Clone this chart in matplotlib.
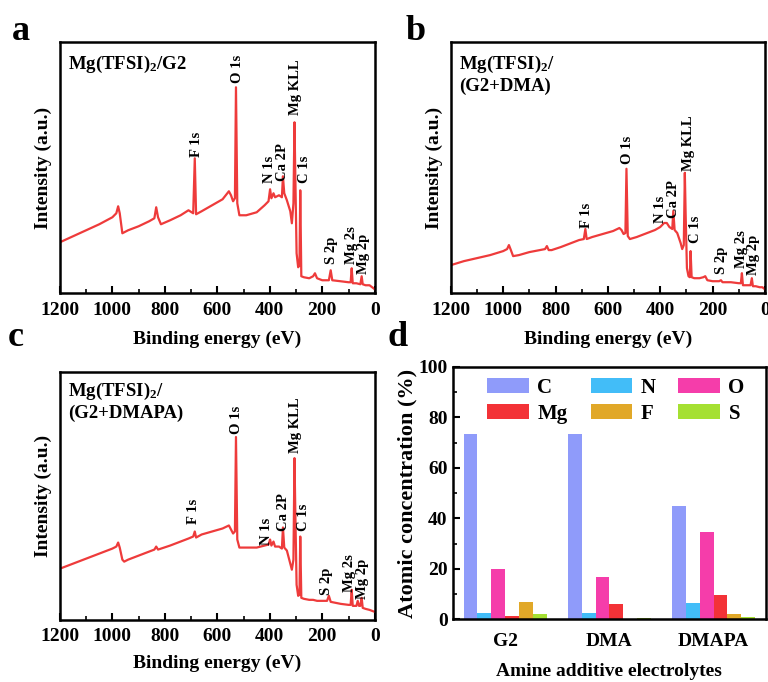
import matplotlib.pyplot as plt
import numpy as np
from matplotlib.ticker import MultipleLocator

plt.rcParams['font.family'] = ['Liberation Serif', 'DejaVu Serif']
plt.rcParams['font.weight'] = 'bold'
plt.rcParams['axes.labelweight'] = 'bold'
plt.rcParams['mathtext.fontset'] = 'custom'
plt.rcParams['mathtext.rm'] = 'Liberation Serif:bold'
plt.rcParams['mathtext.it'] = 'Liberation Serif:bold'
plt.rcParams['mathtext.bf'] = 'Liberation Serif:bold'

# XPS survey spectra (intensity in arbitrary units)
a_E = [1200, 1150, 1100, 1050, 1000, 985, 978, 972, 962, 940, 900, 860, 840, 833, 826, 815,
       780, 740, 710, 692, 686, 681, 660, 620, 580, 556, 548, 540, 533, 529, 524, 516, 490,
       450, 420, 405, 399, 394, 386, 380, 365, 354, 350, 345, 335, 322, 316, 310, 306, 303,
       298, 292, 287, 284, 280, 270, 250, 235, 228, 220, 200, 175, 168, 162, 130, 100, 92,
       88, 84, 70, 55, 50, 46, 35, 20, 10, 0]
a_I = [51, 57, 63, 69, 76, 80, 87, 80, 60, 63, 67, 72, 75, 86, 76, 69,
       73, 78, 83, 80, 135, 79, 82, 88, 94, 102, 98, 92, 95, 206, 90, 78, 78,
       81, 88, 92, 104, 95, 100, 96, 98, 96, 117, 100, 93, 82, 70, 90, 171, 120,
       40, 26, 28, 103, 17, 16, 15, 17, 20, 15, 13, 13, 23, 13, 12, 11, 11,
       25, 10, 10, 9, 17, 9, 8, 8, 6, 4]

b_E = [1200, 1150, 1100, 1050, 1000, 985, 978, 972, 962, 940, 900, 860, 840, 833, 826, 815,
       780, 740, 710, 692, 686, 681, 660, 620, 580, 556, 548, 540, 533, 529, 524, 516, 490,
       450, 420, 400, 385, 375, 365, 354, 350, 345, 335, 322, 316, 310, 306, 303, 298, 292,
       287, 284, 280, 270, 250, 235, 228, 220, 200, 175, 168, 162, 130, 100, 92, 88, 84,
       70, 55, 50, 46, 35, 20, 10, 0]
b_I = [28, 32, 35, 38, 42, 44, 48, 44, 37, 38, 41, 43, 44, 47, 43, 43,
       46, 50, 53, 54, 64, 54, 56, 59, 62, 65, 63, 59, 60, 124, 57, 54, 56,
       60, 63, 66, 70, 70, 66, 64, 82, 63, 60, 50, 44, 48, 120, 80, 25, 17,
       16, 42, 16, 15, 15, 16, 17, 13, 12, 12, 13, 11, 11, 10, 10, 20, 8,
       8, 8, 15, 7, 7, 6, 6, 4]

c_E = [1200, 1150, 1100, 1050, 1000, 985, 978, 972, 962, 955, 940, 900, 860, 840, 833, 826,
       780, 740, 710, 692, 686, 681, 660, 620, 580, 556, 548, 540, 533, 529, 524, 516, 490,
       450, 420, 405, 399, 394, 386, 380, 365, 354, 350, 345, 335, 322, 316, 310, 306, 303,
       298, 292, 287, 284, 280, 270, 250, 235, 220, 200, 182, 175, 168, 130, 100, 92, 88,
       84, 70, 65, 60, 55, 50, 46, 35, 20, 10, 0]
c_I = [51, 56, 61, 66, 71, 73, 77, 72, 60, 58, 60, 64, 68, 70, 73, 70,
       74, 78, 81, 83, 88, 82, 85, 88, 91, 94, 90, 86, 88, 182, 80, 72, 72,
       72, 74, 75, 80, 74, 78, 73, 73, 71, 92, 72, 69, 56, 50, 60, 161, 110,
       35, 24, 25, 83, 22, 21, 20, 20, 19, 19, 19, 24, 18, 16, 15, 15, 30,
       14, 14, 19, 14, 14, 22, 12, 11, 10, 9, 8]

peak_names = ['F 1s', 'O 1s', 'N 1s', 'Ca 2P', 'Mg KLL', 'C 1s', 'S 2p', 'Mg 2s', 'Mg 2p']

# atomic concentration (%)
groups = ['G2', 'DMA', 'DMAPA']
elements = ['C', 'N', 'O', 'Mg', 'F', 'S']
conc_C = [73.5, 73.3, 45.0]
conc_N = [2.3, 2.5, 6.5]
conc_O = [20.0, 16.8, 34.5]
conc_Mg = [1.2, 6.2, 9.7]
conc_F = [6.8, 0.0, 2.2]
conc_S = [2.0, 0.3, 0.8]
el_colors = ['#8F9BFA', '#42BDF8', '#F53DAA', '#F33237', '#E1A828', '#A5E032']

red = '#EE3B3B'

fig = plt.figure(figsize=(7.68, 6.82), dpi=100)

# label positions (E, bottom of text) for each spectrum
lab_a = [(680, 136), (524, 210), (400, 110), (350, 112), (301, 178), (267, 110), (164, 29), (88, 29), (42, 19)]
lab_b = [(680, 65), (524, 129), (398, 70), (348, 75), (291, 122), (267, 50), (164, 19), (90, 25), (42, 18)]
lab_c = [(689, 95), (526, 185), (411, 75), (347, 88), (301, 166), (270, 88), (183, 25), (95, 28), (45, 21)]

spectra = [
    ([0.078, 0.570, 0.410, 0.368], a_E, a_I, 251, lab_a, 'Mg(TFSI)$_2$/G2', 0.955, -0.151),
    ([0.587, 0.570, 0.409, 0.368], b_E, b_I, 250, lab_b, 'Mg(TFSI)$_2$/\n(G2+DMA)', 0.955, -0.151),
    ([0.078, 0.091, 0.410, 0.364], c_E, c_I, 247, lab_c, 'Mg(TFSI)$_2$/\n(G2+DMAPA)', 0.965, -0.141),
]

for rect, E, I, top, labs, title, ty, xly in spectra:
    ax = fig.add_axes(rect)
    ax.plot(E, I, color=red, lw=1.6)
    ax.set_xlim(1200, 0)
    ax.set_ylim(0, top)
    ax.set_xticks([1200, 1000, 800, 600, 400, 200, 0])
    ax.xaxis.set_minor_locator(MultipleLocator(100))
    ax.set_yticks([])
    ax.tick_params(axis='x', which='major', direction='in', length=5, width=1.5, labelsize=14, pad=6)
    ax.tick_params(axis='x', which='minor', direction='in', length=3, width=1.2)
    for s in ax.spines.values():
        s.set_linewidth(1.8)
    ax.set_xlabel('Binding energy (eV)', fontsize=14)
    ax.xaxis.set_label_coords(0.5, xly)
    ax.set_ylabel('Intensity (a.u.)', fontsize=14)
    ax.yaxis.set_label_coords(-0.025, 0.5)
    ax.text(0.025, ty, title, transform=ax.transAxes, fontsize=13.5, va='top', ha='left',
            linespacing=1.25)
    for name, (px, py) in zip(peak_names, labs):
        ax.text(px, py, name, rotation=90, ha='center', va='bottom', fontsize=10.5)

# bar chart
axd = fig.add_axes([0.590, 0.092, 0.407, 0.370])
x = np.arange(1, 4)
w = 0.8 / 6
series = [conc_C, conc_N, conc_O, conc_Mg, conc_F, conc_S]
bars = []
for i, (vals, col, el) in enumerate(zip(series, el_colors, elements)):
    bars.append(axd.bar(x + (i - 2.5) * w, vals, width=w, color=col, label=el))
axd.set_xlim(0.5, 3.5)
axd.set_ylim(0, 100)
axd.set_yticks([0, 20, 40, 60, 80, 100])
axd.yaxis.set_minor_locator(MultipleLocator(10))
axd.set_xticks(x)
axd.set_xticklabels(groups)
axd.tick_params(axis='y', which='major', direction='in', length=5, width=1.5, labelsize=14, pad=4)
axd.tick_params(axis='y', which='minor', direction='in', length=3, width=1.2)
axd.tick_params(axis='x', length=0, labelsize=14, pad=10)
for s in axd.spines.values():
    s.set_linewidth(1.8)
axd.set_xlabel('Amine additive electrolytes', fontsize=14)
axd.xaxis.set_label_coords(0.5, -0.175)
axd.set_ylabel('Atomic concentration (%)', fontsize=16)
axd.yaxis.set_label_coords(-0.115, 0.5)
# legend filled row by row: C N O / Mg F S
order = [0, 3, 1, 4, 2, 5]
axd.legend([bars[k] for k in order], [elements[k] for k in order], ncol=3, loc='upper left',
           bbox_to_anchor=(0.083, 0.99), frameon=False,
           fontsize=15, handlelength=2.0, handleheight=0.75, handletextpad=0.4,
           columnspacing=1.1, labelspacing=0.3, borderaxespad=0)

# panel letters
for lx, ly, let in [(0.016, 0.941, 'a'), (0.528, 0.941, 'b'), (0.010, 0.493, 'c'), (0.505, 0.493, 'd')]:
    fig.text(lx, ly, let, fontsize=26, fontweight='bold', va='baseline')

plt.savefig('out.png', dpi=100)
